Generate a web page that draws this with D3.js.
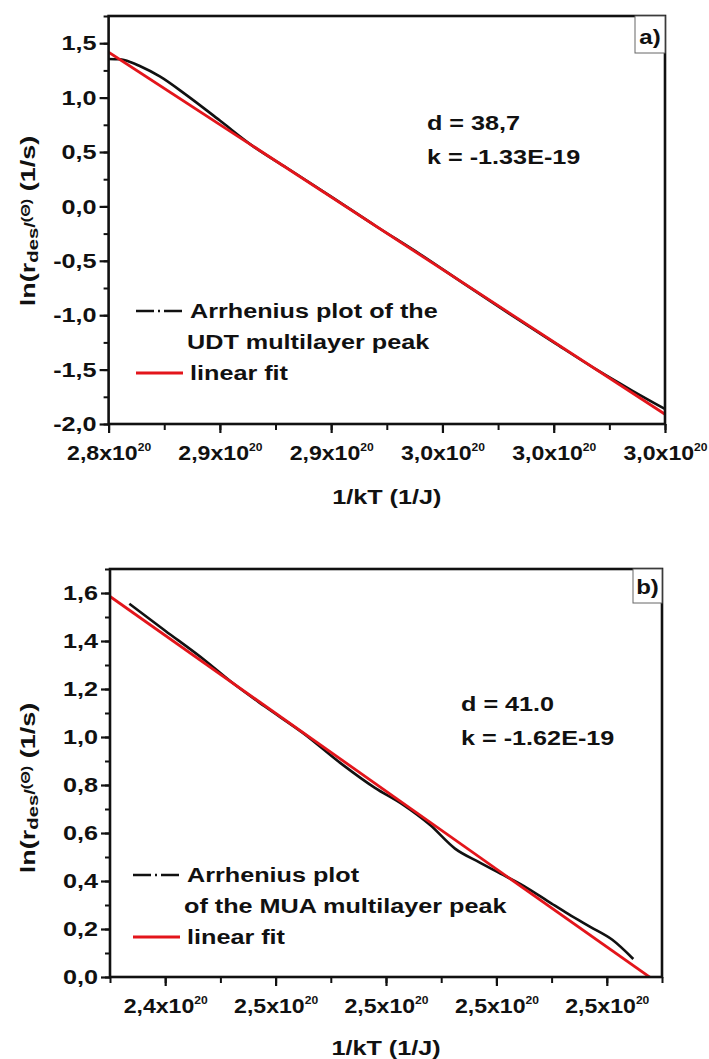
<!DOCTYPE html>
<html>
<head>
<meta charset="utf-8">
<script src="https://cdn.jsdelivr.net/npm/d3@7"></script>
<style>
  body { margin: 0; background: #fff; }
  svg { display: block; }
  text { font-family: "Liberation Sans", Arial, sans-serif; font-weight: bold; fill: #111; }
</style>
</head>
<body>
<svg id="fig" width="709" height="1059"></svg>
<script>
// ---------- Panel a): UDT multilayer peak ----------
// 1/kT in units of 1e20 J^-1, ln(r_des/Theta) in ln(1/s)
const udtInvKT = [2.800, 2.805, 2.810, 2.814, 2.823, 2.835, 2.850, 2.865, 2.880, 2.900,
                  2.920, 2.940, 2.960, 2.980, 3.000, 3.020, 3.035, 3.050];
const udtLnRate = [1.355, 1.352, 1.325, 1.290, 1.195, 1.023, 0.789, 0.552, 0.355, 0.090,
                   -0.180, -0.440, -0.715, -0.985, -1.250, -1.510, -1.690, -1.862];
const udtFitD = 38.7;
const udtFitK = -1.3315e-19;
const udtXTicks = [2.80, 2.85, 2.90, 2.95, 3.00, 3.05];
const udtXTickLabels = ["2,8", "2,9", "2,9", "3,0", "3,0", "3,0"];
const udtYTicks = [-2.0, -1.5, -1.0, -0.5, 0.0, 0.5, 1.0, 1.5];

// ---------- Panel b): MUA multilayer peak ----------
const muaInvKT = [2.4335, 2.440, 2.447, 2.452, 2.458, 2.465, 2.472, 2.478, 2.483, 2.488,
                  2.4925, 2.497, 2.500, 2.505, 2.510, 2.513, 2.517, 2.521, 2.5248];
const muaLnRate = [1.555, 1.443, 1.323, 1.229, 1.128, 1.016, 0.887, 0.788, 0.719, 0.633,
                   0.535, 0.477, 0.440, 0.379, 0.306, 0.263, 0.209, 0.155, 0.075];
const muaFitD = 41.0;
const muaFitK = -1.622e-19;
const muaXTicks = [2.44, 2.46, 2.48, 2.50, 2.52];
const muaXTickLabels = ["2,4", "2,5", "2,5", "2,5", "2,5"];
const muaYTicks = [0.0, 0.2, 0.4, 0.6, 0.8, 1.0, 1.2, 1.4, 1.6];

const svg = d3.select("#fig");
const commaFmt = v => d3.format(".1f")(v).replace(".", ",").replace("−", "-");

// widen a text element horizontally around its own anchor point
function widen(sel, f = 1.2) {
  sel.each(function () {
    const t = d3.select(this);
    const x = +t.attr("x") || 0, y = +t.attr("y") || 0;
    t.attr("transform", `translate(${x},${y}) scale(${f},1) translate(${-x},${-y})`);
  });
  return sel;
}

function drawPanel(opt) {
  const x = d3.scaleLinear().domain(opt.xDomain).range([opt.left, opt.right]);
  const y = d3.scaleLinear().domain(opt.yDomain).range([opt.bottom, opt.top]);
  const g = svg.append("g");

  const clipId = "clip-" + opt.id;
  g.append("clipPath").attr("id", clipId).append("rect")
    .attr("x", opt.left).attr("y", opt.top)
    .attr("width", opt.right - opt.left).attr("height", opt.bottom - opt.top);

  // minor ticks
  const xStep = opt.xTicks[1] - opt.xTicks[0];
  const xMinor = d3.range(opt.xDomain[0], opt.xDomain[1] + 1e-9, xStep / 2);
  g.append("g").attr("transform", `translate(0,${opt.bottom})`)
    .call(d3.axisBottom(x).tickValues(xMinor).tickSize(6).tickFormat(""))
    .call(s => s.select(".domain").remove())
    .call(s => s.selectAll("line").attr("stroke", "#111").attr("stroke-width", 2));
  const yStep = opt.yTicks[1] - opt.yTicks[0];
  const yMinor = d3.range(opt.yDomain[0], opt.yDomain[1] + 1e-9, yStep / 2);
  g.append("g").attr("transform", `translate(${opt.left},0)`)
    .call(d3.axisLeft(y).tickValues(yMinor).tickSize(5).tickFormat(""))
    .call(s => s.select(".domain").remove())
    .call(s => s.selectAll("line").attr("stroke", "#111").attr("stroke-width", 2));

  // major x ticks with x10^20 labels
  const xa = g.append("g").attr("transform", `translate(0,${opt.bottom})`)
    .call(d3.axisBottom(x).tickValues(opt.xTicks).tickSize(9).tickPadding(12));
  xa.select(".domain").remove();
  xa.selectAll("line").attr("stroke", "#111").attr("stroke-width", 2.2);
  xa.selectAll(".tick text").each(function (d, i) {
    const t = d3.select(this).text(null)
      .attr("font-size", 21).attr("font-family", null).attr("fill", "#111");
    t.append("tspan").text(opt.xTickLabels[i] + "x10");
    t.append("tspan").attr("dy", -9).attr("font-size", 11).text("20");
  }).call(widen, 1.1);

  // major y ticks
  const ya = g.append("g").attr("transform", `translate(${opt.left},0)`)
    .call(d3.axisLeft(y).tickValues(opt.yTicks).tickSize(9).tickPadding(3).tickFormat(commaFmt));
  ya.select(".domain").remove();
  ya.selectAll("line").attr("stroke", "#111").attr("stroke-width", 2.2);
  ya.selectAll(".tick text").attr("font-size", 21).attr("font-family", null).attr("fill", "#111")
    .attr("x", -12).call(widen);

  // measured curve
  const line = d3.line().curve(d3.curveMonotoneX)
    .x((d, i) => x(opt.xs[i])).y((d, i) => y(opt.ys[i]));
  g.append("path").datum(opt.xs).attr("d", line)
    .attr("clip-path", `url(#${clipId})`)
    .attr("fill", "none").attr("stroke", "#111").attr("stroke-width", 2.6)
    .attr("stroke-linejoin", "round");

  // linear fit: ln r = d + k * (1/kT)
  const fitX = opt.xDomain;
  const fitY = fitX.map(v => opt.fitD + opt.fitK * v * 1e20);
  g.append("line")
    .attr("x1", x(fitX[0])).attr("y1", y(fitY[0]))
    .attr("x2", x(fitX[1])).attr("y2", y(fitY[1]))
    .attr("clip-path", `url(#${clipId})`)
    .attr("stroke", "#e3151b").attr("stroke-width", 2.8);

  // frame
  g.append("rect")
    .attr("x", opt.left).attr("y", opt.top)
    .attr("width", opt.right - opt.left).attr("height", opt.bottom - opt.top)
    .attr("fill", "none").attr("stroke", "#111").attr("stroke-width", 2.6);

  // panel tag
  g.append("rect").attr("x", opt.right - opt.tagW).attr("y", opt.top)
    .attr("width", opt.tagW).attr("height", opt.tagH)
    .attr("fill", "#fff").attr("stroke", "#666").attr("stroke-width", 1);
  g.append("text").attr("x", opt.right - opt.tagW / 2).attr("y", opt.top + opt.tagH - 9)
    .attr("text-anchor", "middle").attr("font-size", 20).text(opt.tag).call(widen);

  // fit parameters
  g.append("text").attr("x", opt.annX).attr("y", opt.annY).attr("font-size", 21)
    .text("d = " + opt.dText).call(widen);
  g.append("text").attr("x", opt.annX).attr("y", opt.annY + 34).attr("font-size", 21)
    .text("k = " + opt.kText).call(widen);

  // legend
  const lg = g.append("g");
  lg.append("line").attr("x1", opt.legX).attr("x2", opt.legX + 47)
    .attr("y1", opt.legY).attr("y2", opt.legY)
    .attr("stroke", "#111").attr("stroke-width", 2.6).attr("stroke-dasharray", "18,4,2,4");
  opt.legendLines.forEach((s, i) => {
    lg.append("text").attr("x", opt.legX + (i === 0 ? 54 : 51)).attr("y", opt.legY + 7 + i * 31)
      .attr("font-size", 21).text(s).call(widen);
  });
  const redY = opt.legY + opt.legendLines.length * 31;
  lg.append("line").attr("x1", opt.legX).attr("x2", opt.legX + 47)
    .attr("y1", redY).attr("y2", redY)
    .attr("stroke", "#e3151b").attr("stroke-width", 2.8);
  lg.append("text").attr("x", opt.legX + 54).attr("y", redY + 7).attr("font-size", 21)
    .text("linear fit").call(widen);

  // axis titles
  g.append("text").attr("x", (opt.left + opt.right) / 2).attr("y", opt.xTitleY)
    .attr("text-anchor", "middle").attr("font-size", 21).text("1/kT (1/J)").call(widen);
  const yt = g.append("text")
    .attr("transform", `translate(${opt.yTitleX},${opt.yTitleY}) rotate(-90) scale(1.35,1)`)
    .attr("text-anchor", "middle").attr("font-size", 20);
  yt.append("tspan").text("ln(r");
  yt.append("tspan").attr("dy", 3).attr("font-size", 15).text("des");
  yt.append("tspan").attr("dy", -3).attr("font-size", 15).text("/");
  yt.append("tspan").attr("dy", -5).attr("font-size", 12).text("(Θ)");
  yt.append("tspan").attr("dy", 5).text(" (1/s)");
}

drawPanel({
  id: "a", left: 108.6, right: 665, top: 16, bottom: 424,
  xDomain: [2.80, 3.05], yDomain: [-2.0, 1.75],
  xTicks: udtXTicks, xTickLabels: udtXTickLabels, yTicks: udtYTicks,
  xs: udtInvKT, ys: udtLnRate, fitD: udtFitD, fitK: udtFitK,
  tag: "a)", tagW: 30, tagH: 37,
  annX: 427, annY: 130,
  dText: commaFmt(udtFitD), kText: udtFitK.toExponential(2).toUpperCase(),
  legX: 136, legY: 311,
  legendLines: ["Arrhenius plot of the", "UDT multilayer peak"],
  xTitleY: 504, yTitleX: 35, yTitleY: 221
});

drawPanel({
  id: "b", left: 110, right: 662, top: 569, bottom: 977,
  xDomain: [2.43, 2.53], yDomain: [0, 1.7],
  xTicks: muaXTicks, xTickLabels: muaXTickLabels, yTicks: muaYTicks,
  xs: muaInvKT, ys: muaLnRate, fitD: muaFitD, fitK: muaFitK,
  tag: "b)", tagW: 29, tagH: 34,
  annX: 461, annY: 711,
  dText: muaFitD.toFixed(1), kText: muaFitK.toExponential(2).toUpperCase(),
  legX: 133, legY: 875,
  legendLines: ["Arrhenius plot", "of the MUA multilayer peak"],
  xTitleY: 1055, yTitleX: 35, yTitleY: 788
});
</script>
</body>
</html>
